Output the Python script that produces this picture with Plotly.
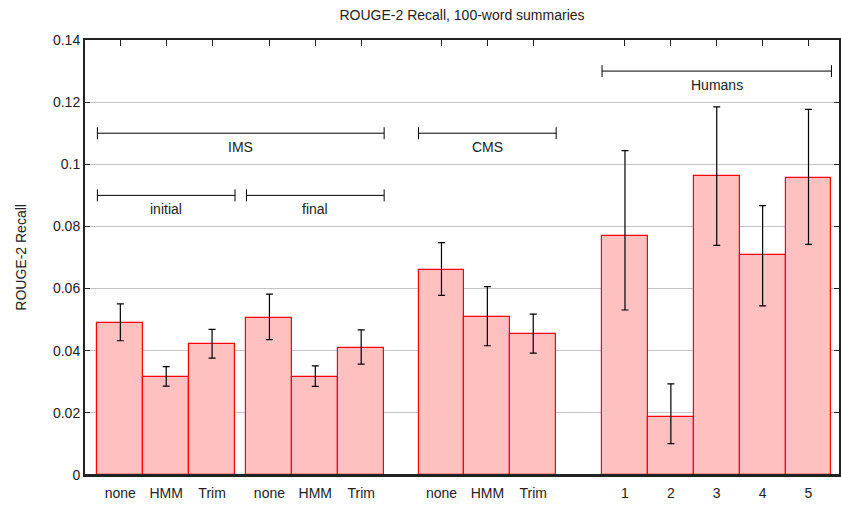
import plotly.graph_objects as go

# ---- data ----
method_labels = ["none", "HMM", "Trim"]
ims_initial = [0.0490, 0.0315, 0.0422]
ims_initial_hi = [0.0551, 0.0349, 0.0469]
ims_initial_lo = [0.0432, 0.0286, 0.0376]

ims_final = [0.0505, 0.0317, 0.0410]
ims_final_hi = [0.0582, 0.0351, 0.0467]
ims_final_lo = [0.0436, 0.0285, 0.0357]

cms = [0.0660, 0.0508, 0.0453]
cms_hi = [0.0748, 0.0606, 0.0518]
cms_lo = [0.0578, 0.0416, 0.0392]

human_labels = ["1", "2", "3", "4", "5"]
humans = [0.0770, 0.0188, 0.0963, 0.0709, 0.0956]
humans_hi = [0.1044, 0.0293, 0.1185, 0.0867, 0.1177]
humans_lo = [0.0531, 0.0101, 0.0739, 0.0544, 0.0742]

y_ticks = [0, 0.02, 0.04, 0.06, 0.08, 0.1, 0.12, 0.14]
y_tick_text = ["0", "0.02", "0.04", "0.06", "0.08", "0.1", "0.12", "0.14"]

# ---- layout of groups (gaps in bar-width units) ----
groups = [
    (method_labels, ims_initial, ims_initial_hi, ims_initial_lo, 0.0),
    (method_labels, ims_final, ims_final_hi, ims_final_lo, 0.25),
    (method_labels, cms, cms_hi, cms_lo, 0.75),
    (human_labels, humans, humans_hi, humans_lo, 1.0),
]

xs, ys, eplus, eminus, ticktext, spans = [], [], [], [], [], []
pos = 0.0
for gi, (labs, vals, hi, lo, gap) in enumerate(groups):
    if gi > 0:
        pos += gap
    start = pos
    for lab, v, h, l in zip(labs, vals, hi, lo):
        xs.append(pos)
        ys.append(v)
        eplus.append(h - v)
        eminus.append(v - l)
        ticktext.append(lab)
        pos += 1.0
    spans.append((start - 0.5, pos - 1 + 0.5))

W, H = 841, 508
ML, MR, MT, MB = 85, 0, 40, 33
unit_px = 46.0
x0 = -0.77
x1 = x0 + (W - ML - MR) / unit_px
ymax = 0.14
px_per_y = (H - MT - MB) / ymax

fig = go.Figure()
fig.add_trace(go.Bar(
    x=xs, y=ys, width=1.0,
    marker=dict(color="#ffc0c0", line=dict(color="#ff0000", width=1.2)),
    error_y=dict(type="data", symmetric=False, array=eplus, arrayminus=eminus,
                 color="black", thickness=1.2, width=3.5),
    showlegend=False,
))
# invisible trace to activate the top axis (tick marks only)
fig.add_trace(go.Scatter(x=[xs[0]], y=[0], xaxis="x2", mode="markers",
                         marker=dict(opacity=0), showlegend=False, hoverinfo="skip"))

# brackets
cap = 6 / px_per_y
ims_span = (spans[0][0], spans[1][1])
brackets = [
    (spans[0], 0.09, "initial"),
    (spans[1], 0.09, "final"),
    (ims_span, 0.11, "IMS"),
    (spans[2], 0.11, "CMS"),
    (spans[3], 0.13, "Humans"),
]
shapes = []
annotations = []
for (a, b), yl, txt in brackets:
    shapes.append(dict(type="line", x0=a, x1=b, y0=yl, y1=yl, xref="x", yref="y",
                       line=dict(color="black", width=1)))
    for xe in (a, b):
        shapes.append(dict(type="line", x0=xe, x1=xe, y0=yl - cap, y1=yl + cap,
                           xref="x", yref="y", line=dict(color="black", width=1)))
    annotations.append(dict(x=(a + b) / 2, y=yl, xref="x", yref="y", text=txt,
                            showarrow=False, yanchor="middle", yshift=-14,
                            font=dict(size=14, color="#222")))

# dark baseline drawn over the bar outlines
shapes.append(dict(type="line", x0=0, x1=1, xref="paper", y0=0, y1=0, yref="y",
                   line=dict(color="#222", width=2), layer="above"))

annotations.append(dict(x=(20 - ML) / (W - ML - MR), y=0.5, xref="paper", yref="paper",
                        text="ROUGE-2 Recall", textangle=-90, showarrow=False,
                        xanchor="center", yanchor="middle",
                        font=dict(size=14, color="#222")))

fig.update_layout(
    width=W, height=H,
    margin=dict(l=ML, r=MR, t=MT, b=MB),
    paper_bgcolor="white", plot_bgcolor="white",
    font=dict(family="Liberation Sans, Arial, sans-serif", size=14, color="#222"),
    title=dict(text="ROUGE-2 Recall, 100-word summaries", x=0.5, xref="paper",
               xanchor="center", y=1 - 15 / H, yref="container", yanchor="middle",
               font=dict(size=14, color="#222")),
    xaxis=dict(range=[x0, x1], tickvals=xs, ticktext=ticktext, ticks="",
               showgrid=False, zeroline=False, showline=True, linecolor="#222",
               linewidth=2, mirror=False, ticklabelstandoff=4),
    xaxis2=dict(range=[x0, x1], overlaying="x", side="top", tickvals=xs,
                showticklabels=False, ticks="inside", ticklen=6, tickcolor="#222",
                showgrid=False, zeroline=False, showline=True, linecolor="#222",
                linewidth=1.5),
    yaxis=dict(range=[0, ymax], tickvals=y_ticks, ticktext=y_tick_text,
               ticks="inside", ticklen=5, tickcolor="#222", showgrid=True,
               gridcolor="#c4c4c4", gridwidth=1, zeroline=False, showline=True,
               linecolor="#222", linewidth=2, mirror="ticks"),
    shapes=shapes,
    annotations=annotations,
    bargap=0,
)

fig.write_html("out.html", config={"displayModeBar": False},
               post_script="document.body.style.margin='0';")
